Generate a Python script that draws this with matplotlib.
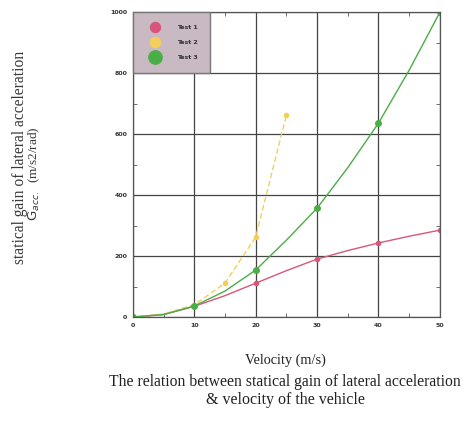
import matplotlib
matplotlib.use("Agg")
import matplotlib.pyplot as plt
from matplotlib.ticker import MultipleLocator

# Data
velocity = [0, 5, 10, 15, 20, 25, 30, 35, 40, 45, 50]
test1 = [0, 8, 35, 70, 111, 152, 190, 218, 243, 265, 285]
test3 = [0, 8, 36, 85, 154, 252, 357, 490, 636, 810, 1000]
velocity2 = [0, 5, 10, 15, 20, 25]
test2 = [0, 10, 40, 111, 262, 662]
labels = ["Test 1", "Test 2", "Test 3"]
x_ticks = [0, 10, 20, 30, 40, 50]
y_ticks = [0, 200, 400, 600, 800, 1000]

red = "#d9557a"
yellow = "#f3cf5a"
green = "#4aae46"

fig = plt.figure(figsize=(4.66, 4.21), dpi=100)
ax = fig.add_axes([0.285, 0.247, 0.659, 0.724])

ax.plot(velocity, test1, color=red, lw=1.0, marker="o", ms=3, markevery=2, label=labels[0])
ax.plot(velocity2, test2, color=yellow, lw=1.0, ls=(0, (4, 2)), marker="o", ms=3,
        markevery=[2, 3, 4, 5], label=labels[1])
ax.plot(velocity, test3, color=green, lw=1.0, marker="o", ms=4, markevery=2, label=labels[2])

ax.set_xlim(0, 50)
ax.set_ylim(0, 1000)
ax.set_xticks(x_ticks)
ax.set_yticks(y_ticks)
ax.xaxis.set_minor_locator(MultipleLocator(5))
ax.yaxis.set_minor_locator(MultipleLocator(100))
ax.tick_params(which="both", direction="in", top=True, right=True, labelsize=4.5, pad=4)
ax.tick_params(which="major", length=0)
ax.tick_params(which="minor", length=3, color="#555555")
for lab in ax.get_xticklabels() + ax.get_yticklabels():
    lab.set_fontweight("bold")
    lab.set_color("#333333")
ax.grid(True, which="major", color="#444444", lw=0.9)
for s in ax.spines.values():
    s.set_color("#555555")
    s.set_linewidth(0.9)

leg = ax.legend(loc="upper left", fontsize=4.5, frameon=True, fancybox=True,
                borderaxespad=0, markerscale=2.4, handlelength=3.0, handletextpad=2.0,
                labelspacing=1.55, borderpad=2.0)
for h in leg.legend_handles:
    h.set_linestyle("none")
frame = leg.get_frame()
frame.set_facecolor("#c9b9c3")
frame.set_edgecolor("#777777")
frame.set_alpha(1)
for t in leg.get_texts():
    t.set_fontweight("bold")
    t.set_color("#333333")

serif = "Liberation Serif"
fig.text(0.043, 0.627, "statical gain of lateral acceleration", rotation=90,
         ha="center", va="center", fontsize=11.2, family=serif, color="#3a3a3a")
fig.text(0.074, 0.587, r"$\mathrm{G}_{acc.}$  (m/s2/rad)", rotation=90,
         ha="center", va="center", fontsize=9.5, family=serif, color="#3a3a3a")

fig.text(0.612, 0.145, "Velocity (m/s)", ha="center", va="center",
         fontsize=10.3, family=serif, color="#222222")
fig.text(0.612, 0.093, "The relation between statical gain of lateral acceleration",
         ha="center", va="center", fontsize=11.3, family=serif, color="#222222")
fig.text(0.612, 0.050, "& velocity of the vehicle", ha="center", va="center",
         fontsize=11.5, family=serif, color="#222222")

fig.savefig("out.png", dpi=100)
